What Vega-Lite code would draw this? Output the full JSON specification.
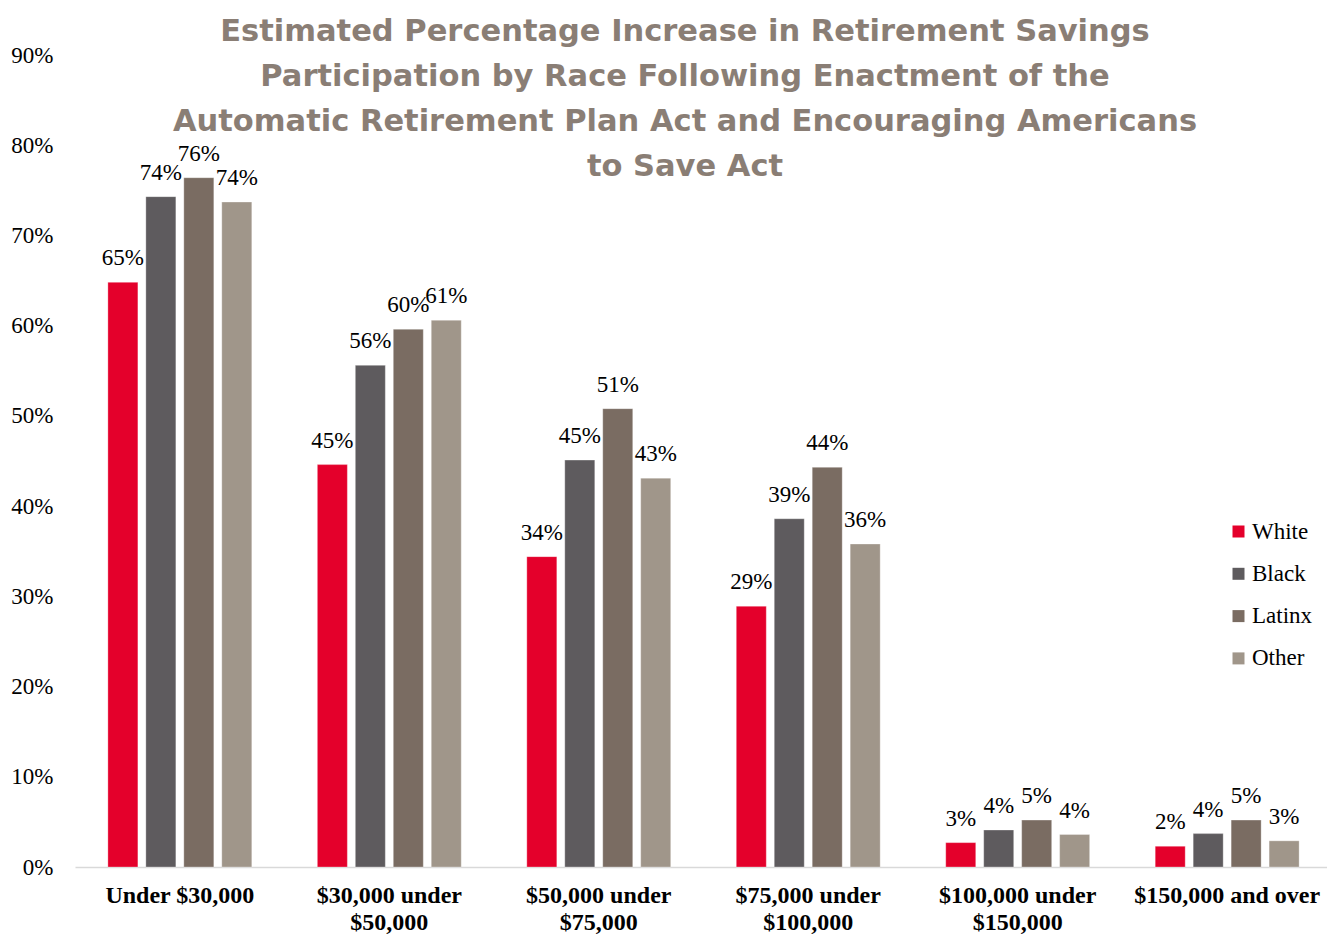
{
  "$schema": "https://vega.github.io/schema/vega-lite/v6.json",
  "autosize": {"type": "none"},
  "padding": {"left": 75, "top": 55, "right": 0, "bottom": 68},
  "width": 1257,
  "height": 812,
  "background": "white",
  "title": {
    "text": ["Estimated Percentage Increase in Retirement Savings", "Participation by Race Following Enactment of the", "Automatic Retirement Plan Act and Encouraging Americans", "to Save Act"],
    "font": "DejaVu Sans",
    "fontSize": 30.5,
    "fontWeight": 900,
    "color": "#8A7E75",
    "lineHeight": 45,
    "anchor": "middle",
    "frame": "group",
    "orient": "top",
    "offset": -138,
    "dx": -18.5
  },
  "data": {
    "values": [
      {"income": "Under $30,000", "race": "White", "value": 0.648},
      {"income": "Under $30,000", "race": "Black", "value": 0.743},
      {"income": "Under $30,000", "race": "Latinx", "value": 0.764},
      {"income": "Under $30,000", "race": "Other", "value": 0.737},
      {"income": "$30,000 under $50,000", "race": "White", "value": 0.446},
      {"income": "$30,000 under $50,000", "race": "Black", "value": 0.556},
      {"income": "$30,000 under $50,000", "race": "Latinx", "value": 0.596},
      {"income": "$30,000 under $50,000", "race": "Other", "value": 0.606},
      {"income": "$50,000 under $75,000", "race": "White", "value": 0.344},
      {"income": "$50,000 under $75,000", "race": "Black", "value": 0.451},
      {"income": "$50,000 under $75,000", "race": "Latinx", "value": 0.508},
      {"income": "$50,000 under $75,000", "race": "Other", "value": 0.431},
      {"income": "$75,000 under $100,000", "race": "White", "value": 0.289},
      {"income": "$75,000 under $100,000", "race": "Black", "value": 0.386},
      {"income": "$75,000 under $100,000", "race": "Latinx", "value": 0.443},
      {"income": "$75,000 under $100,000", "race": "Other", "value": 0.358},
      {"income": "$100,000 under $150,000", "race": "White", "value": 0.027},
      {"income": "$100,000 under $150,000", "race": "Black", "value": 0.041},
      {"income": "$100,000 under $150,000", "race": "Latinx", "value": 0.052},
      {"income": "$100,000 under $150,000", "race": "Other", "value": 0.036},
      {"income": "$150,000 and over", "race": "White", "value": 0.023},
      {"income": "$150,000 and over", "race": "Black", "value": 0.037},
      {"income": "$150,000 and over", "race": "Latinx", "value": 0.052},
      {"income": "$150,000 and over", "race": "Other", "value": 0.029}
    ]
  },
  "encoding": {
    "x": {
      "field": "income",
      "type": "nominal",
      "sort": null,
      "title": null,
      "scale": {"paddingInner": 0.313, "paddingOuter": 0.157},
      "axis": {
        "labelAngle": 0,
        "labelFont": "Liberation Serif",
        "labelFontSize": 24,
        "labelFontWeight": "bold",
        "labelColor": "black",
        "labelPadding": 16,
        "labelLineHeight": 27,
        "labelLimit": 300,
        "ticks": false,
        "domainColor": "#D9D9D9",
        "domainWidth": 1.5,
        "grid": false,
        "labelExpr": "indexof(datum.value, ' under ') > 0 ? [slice(datum.value, 0, indexof(datum.value, ' under ') + 6), slice(datum.value, indexof(datum.value, ' under ') + 7)] : datum.value"
      }
    },
    "xOffset": {
      "field": "race",
      "type": "nominal",
      "sort": ["White", "Black", "Latinx", "Other"],
      "scale": {"paddingInner": 0.21, "paddingOuter": 0}
    },
    "y": {
      "field": "value",
      "type": "quantitative",
      "title": null,
      "scale": {"domain": [0, 0.9], "nice": false},
      "axis": {
        "values": [0, 0.1, 0.2, 0.3, 0.4, 0.5, 0.6, 0.7, 0.8, 0.9],
        "format": ".0%",
        "labelFont": "Liberation Serif",
        "labelFontSize": 23,
        "labelColor": "black",
        "labelPadding": 22,
        "ticks": false,
        "domain": false,
        "grid": false
      }
    }
  },
  "layer": [
    {
      "mark": {"type": "bar", "stroke": "#FFFFFF", "strokeWidth": 0.5, "strokeOpacity": 0.6},
      "encoding": {
        "color": {
          "field": "race",
          "type": "nominal",
          "sort": ["White", "Black", "Latinx", "Other"],
          "scale": {"domain": ["White", "Black", "Latinx", "Other"], "range": ["#E4002B", "#5E5B5E", "#7A6C62", "#A0968A"]},
          "legend": {
            "title": null,
            "orient": "none",
            "legendX": 1152,
            "legendY": 465,
            "symbolType": "square",
            "symbolSize": 144,
            "symbolStrokeWidth": 0,
            "labelFont": "Liberation Serif",
            "labelFontSize": 23,
            "labelColor": "black",
            "labelOffset": 2,
            "rowPadding": 18.3
          }
        }
      }
    },
    {
      "mark": {"type": "text", "font": "Liberation Serif", "fontSize": 23, "color": "black", "baseline": "alphabetic", "dy": -17},
      "encoding": {
        "text": {"field": "value", "type": "quantitative", "format": ".0%"}
      }
    }
  ],
  "config": {"view": {"stroke": null}}
}
